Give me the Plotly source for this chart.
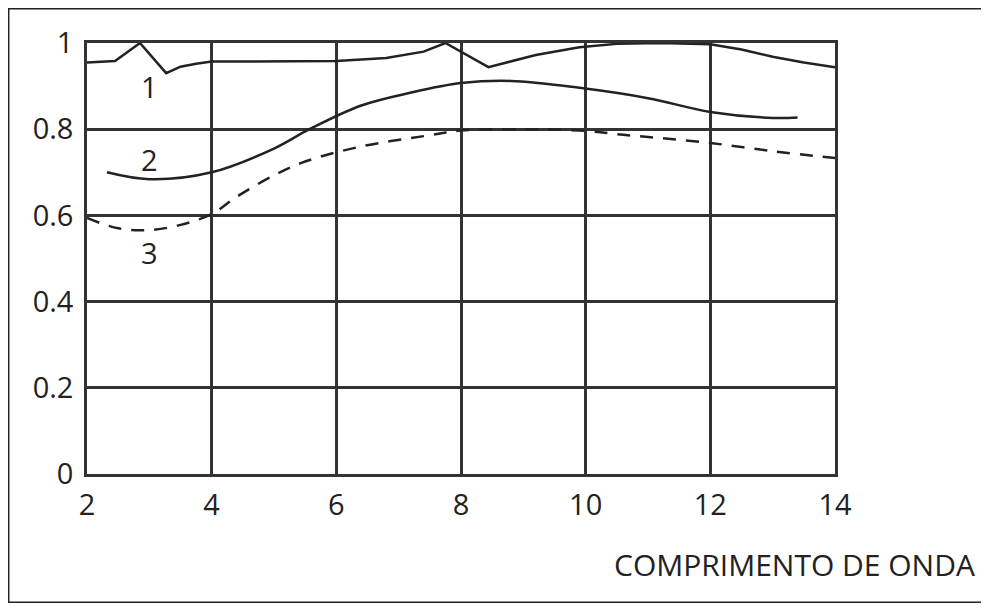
import plotly.graph_objects as go

# curve 1 (solid, with sharp peaks)
x1 = [2.0, 2.45, 2.85, 3.27, 3.5, 3.75, 4.0, 5.0, 6.0, 6.8, 7.4, 7.75, 8.44, 9.2, 9.9, 10.5, 11.2, 12.0, 12.5, 13.0, 13.5, 14.0]
y1 = [0.955, 0.958, 1.0, 0.93, 0.945, 0.952, 0.957, 0.957, 0.958, 0.965, 0.98, 1.0, 0.944, 0.972, 0.99, 0.998, 1.0, 0.997, 0.985, 0.968, 0.955, 0.944]
# curve 2 (solid, smooth)
x2 = [2.32, 3.0, 4.0, 5.0, 5.57, 6.4, 7.2, 8.0, 8.8, 9.9, 11.0, 12.0, 13.0, 13.4]
y2 = [0.70, 0.684, 0.70, 0.755, 0.80, 0.855, 0.885, 0.907, 0.912, 0.896, 0.872, 0.84, 0.826, 0.827]
# curve 3 (dashed)
x3 = [2.0, 2.5, 3.0, 3.5, 4.0, 4.4, 5.0, 5.5, 6.4, 7.5, 8.0, 9.0, 10.0, 10.6, 11.0, 12.0, 13.0, 14.0]
y3 = [0.594, 0.57, 0.566, 0.578, 0.603, 0.643, 0.693, 0.725, 0.760, 0.786, 0.797, 0.80, 0.796, 0.787, 0.782, 0.768, 0.749, 0.733]

curve_labels = ["1", "2", "3"]
label_x = [3.01, 3.01, 3.01]
label_y = [0.90, 0.729, 0.515]

x_ticks = [2, 4, 6, 8, 10, 12, 14]
y_ticks = [0, 0.2, 0.4, 0.6, 0.8, 1]
y_tick_text = ["0", "0.2", "0.4", "0.6", "0.8", "1"]
x_title = "COMPRIMENTO DE ONDA"

ink = "#222222"
grid = "#333333"
font = "Open Sans"
fs = 29

fig = go.Figure()
fig.add_trace(go.Scatter(x=x1, y=y1, mode="lines", line=dict(color=ink, width=2.5), showlegend=False))
fig.add_trace(go.Scatter(x=x2, y=y2, mode="lines", line=dict(color=ink, width=2.5, shape="spline", smoothing=1.0), showlegend=False))
fig.add_trace(go.Scatter(x=x3, y=y3, mode="lines", line=dict(color=ink, width=2.5, shape="spline", smoothing=1.0, dash="13px,10px"), showlegend=False))

for t, lx, ly in zip(curve_labels, label_x, label_y):
    fig.add_annotation(x=lx, y=ly, text=t, showarrow=False, font=dict(family=font, size=fs, color=ink))

fig.add_annotation(xref="paper", yref="paper", x=1.190, y=-0.209, xanchor="right", yanchor="middle",
                   text=x_title, showarrow=False, font=dict(family=font, size=30, color=ink))

# outer frame
fig.add_shape(type="rect", xref="paper", yref="paper", x0=-0.1050, x1=1.1979, y0=-0.298, y1=1.080,
              line=dict(color=ink, width=2), layer="below")

fig.update_xaxes(range=[2, 14], tickvals=x_ticks, showgrid=True, gridcolor=grid, gridwidth=2.5,
                 showline=True, linecolor=grid, linewidth=2.5, mirror=True, zeroline=False,
                 ticks="", tickfont=dict(family=font, size=fs, color=ink), ticklabelstandoff=3)
fig.update_yaxes(range=[0, 1], tickvals=y_ticks, ticktext=y_tick_text, showgrid=True, gridcolor=grid, gridwidth=2.5,
                 showline=True, linecolor=grid, linewidth=2.5, mirror=True, zeroline=False,
                 ticks="", tickfont=dict(family=font, size=fs, color=ink), ticklabelstandoff=5)

# page body has an 8px margin, so the figure is sized/offset to compensate
fig.update_layout(width=976, height=595, margin=dict(l=79, r=149, t=35, b=129),
                  paper_bgcolor="white", plot_bgcolor="white")

fig.write_html("out.html")
